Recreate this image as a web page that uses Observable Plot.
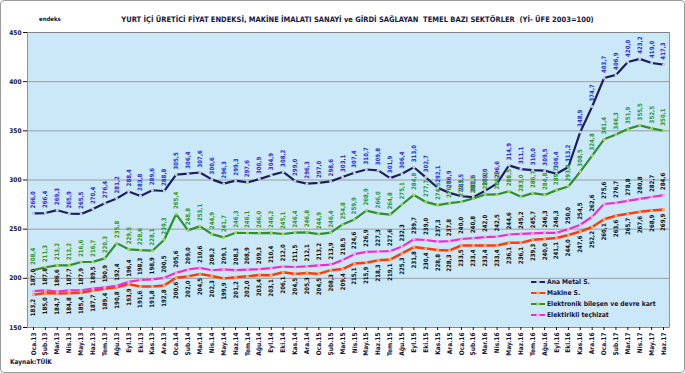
<!DOCTYPE html>
<html><head><meta charset="utf-8">
<script src="https://cdn.jsdelivr.net/npm/d3@7"></script>
<script src="https://cdn.jsdelivr.net/npm/@observablehq/plot@0.6"></script>
<style>
body{margin:0;background:#fff;}
#wrap{position:relative;width:685px;height:373px;overflow:hidden;font-family:"DejaVu Sans Condensed","DejaVu Sans",sans-serif;font-weight:bold;color:#111;}
#border{position:absolute;left:0;top:0;width:683px;height:371px;border:1px solid #9b9b9b;border-radius:4px;box-sizing:content-box;pointer-events:none;}
#title{position:absolute;top:15px;left:30px;width:655px;text-align:center;font-size:7.5px;color:#14143c;white-space:pre;}
#endeks{position:absolute;top:15px;left:39px;font-size:6px;color:#14143c;}
#chart{position:absolute;left:0;top:24px;}
#source{position:absolute;left:10px;top:358px;font-size:6.5px;color:#14143c;}
#legend{position:absolute;left:531px;top:276px;font-size:6.7px;color:#14143c;}
#legend div{height:11px;display:flex;align-items:center;white-space:nowrap;}
#legend svg{margin-right:2px;}
</style></head>
<body>
<div id="wrap">
  <div id="title">YURT İÇİ ÜRETİCİ FİYAT ENDEKSİ, MAKİNE İMALATI SANAYİ ve GİRDİ SAĞLAYAN  TEMEL BAZI SEKTÖRLER  (Yİ- ÜFE 2003=100)</div>
  <div id="endeks">endeks</div>
  <div id="chart"></div>
  <div id="legend"></div>
  <div id="source">Kaynak:TÜİK</div>
  <div id="border"></div>
</div>
<script>
const months = ["Oca.13","Şub.13","Mar.13","Nis.13","May.13","Haz.13","Tem.13","Ağu.13","Eyl.13","Eki.13","Kas.13","Ara.13",
"Oca.14","Şub.14","Mar.14","Nis.14","May.14","Haz.14","Tem.14","Ağu.14","Eyl.14","Eki.14","Kas.14","Ara.14",
"Oca.15","Şub.15","Mar.15","Nis.15","May.15","Haz.15","Tem.15","Ağu.15","Eyl.15","Eki.15","Kas.15","Ara.15",
"Oca.16","Şub.16","Mar.16","Nis.16","May.16","Haz.16","Tem.16","Ağu.16","Eyl.16","Eki.16","Kas.16","Ara.16",
"Oca.17","Şub.17","Mar.17","Nis.17","May.17","Haz.17"];

const anaMetal = [266.0,266.4,269.3,265.9,265.5,270.4,276.4,281.2,288.4,283.8,289.6,288.8,
305.5,306.4,307.6,300.6,296.3,299.3,297.6,300.9,304.9,308.2,299.0,296.3,
297.0,298.6,303.1,307.4,310.7,309.8,301.9,306.4,313.0,302.7,292.1,286.9,
283.5,282.6,289.0,296.6,314.9,311.1,310.0,309.5,306.4,313.2,348.9,374.7,
403.7,406.9,420.0,423.2,419.0,417.3];

const makine = [183.2,185.0,184.7,184.8,185.4,187.7,189.4,190.8,193.9,191.6,191.8,192.8,
200.6,202.0,204.5,202.3,199.9,201.2,202.0,203.4,203.1,206.1,204.5,205.3,
204.5,208.3,209.4,215.1,215.9,218.3,219.1,225.3,231.8,230.4,228.8,228.3,
233.5,233.4,233.4,233.4,236.1,236.1,239.3,240.0,241.1,244.0,247.6,252.2,
260.1,263.6,265.7,267.6,268.9,269.9];

const elektronik = [208.4,211.3,213.2,213.2,216.6,216.7,220.3,235.8,229.5,228.6,228.1,239.3,
265.4,248.8,253.1,244.9,241.7,246.3,246.1,246.0,246.2,245.1,246.4,246.8,
244.9,246.4,254.8,259.9,268.9,266.0,264.8,275.1,284.8,277.7,274.5,276.5,
277.9,281.3,285.2,285.3,288.5,283.0,286.7,284.8,289.7,293.4,308.5,324.8,
341.4,346.3,351.9,355.5,352.5,350.1];

const elektrikli = [187.0,187.8,186.6,187.7,187.9,189.5,190.9,192.4,196.4,198.3,198.9,200.5,
205.6,209.0,210.6,208.2,209.1,208.3,208.9,209.3,210.4,212.0,211.5,212.1,
213.2,213.9,218.5,224.6,226.9,227.3,227.6,232.3,239.7,239.0,237.3,237.8,
240.0,240.8,242.0,242.5,244.6,245.2,245.7,246.3,246.3,250.0,254.5,262.6,
275.6,276.7,278.8,280.8,282.7,284.6];

const yTicks = [150,200,250,300,350,400,450];

const seriesNames = ["Ana Metal S.","Makine S.","Elektronik bileşen ve devre kart","Elektirikli teçhizat"];

const series = [
  {name: seriesNames[0], values: anaMetal, line:"#1c1f5c", dot:"#c9cde0", label:"#2f2fd8", below:false, w:2.2},
  {name: seriesNames[1], values: makine, line:"#ff3b0a", dot:"#ffb070", label:"#111", below:true, w:2.5},
  {name: seriesNames[2], values: elektronik, line:"#2f8f2a", dot:"#a6d85a", label:"#2f9a2a", below:false, w:2.2},
  {name: seriesNames[3], values: elektrikli, line:"#f02ccf", dot:"#ffa6e6", label:"#111", below:false, w:2.2}
];

const fmt = v => v.toFixed(1).replace(".", ",");
const FONT = '"DejaVu Sans Condensed","DejaVu Sans",sans-serif';

const marks = [
  Plot.frame({fill:"#cbe8f8"}),
  Plot.gridY(yTicks, {stroke:"#8c8c8c", strokeOpacity:1, strokeWidth:0.8}),
  Plot.frame({stroke:"#7d7d7d", strokeWidth:0.8}),
  Plot.axisY(yTicks, {tickSize:4, tickPadding:2, fontSize:6.5, fontWeight:"bold", tickFormat:d=>String(d), fill:"#14143c"}),
  Plot.axisX({tickRotate:-90, tickSize:3, tickPadding:2, fontSize:6.5, fontWeight:"bold", fill:"#14143c"})
];
for (const s of series) {
  const rows = s.values.map((v,i)=>({m: months[i], v}));
  marks.push(Plot.line(rows, {x:"m", y:"v", stroke:s.line, strokeWidth:s.w}));
  marks.push(Plot.dot(rows, {x:"m", y:"v", r:1.5, fill:s.dot, stroke:"none"}));
}
for (const s of series) {
  const rows = s.values.map((v,i)=>({m: months[i], v}));
  marks.push(Plot.text(rows, {x:"m", y:"v", text:d=>fmt(d.v), rotate:-90,
    textAnchor: s.below ? "end" : "start", dy: s.below ? 4 : -5,
    fill:s.label, fontSize:6.1, fontWeight:"bold"}));
}

const chart = Plot.plot({
  width:685, height:335,
  marginLeft:27, marginRight:16, marginTop:8, marginBottom:32,
  style:{fontFamily:FONT, background:"transparent", overflow:"visible"},
  x:{type:"point", domain:months, range:[33,663], padding:0, label:null},
  y:{domain:[150,450], label:null},
  marks
});
document.getElementById("chart").appendChild(chart);

const leg = document.getElementById("legend");
for (const s of series) {
  const row = document.createElement("div");
  row.innerHTML = `<svg width="14" height="8"><line x1="0" y1="4" x2="14" y2="4" stroke="${s.line}" stroke-width="2"/><circle cx="7" cy="4" r="1.8" fill="${s.dot}"/></svg><span>${s.name}</span>`;
  leg.appendChild(row);
}
</script>
</body></html>
